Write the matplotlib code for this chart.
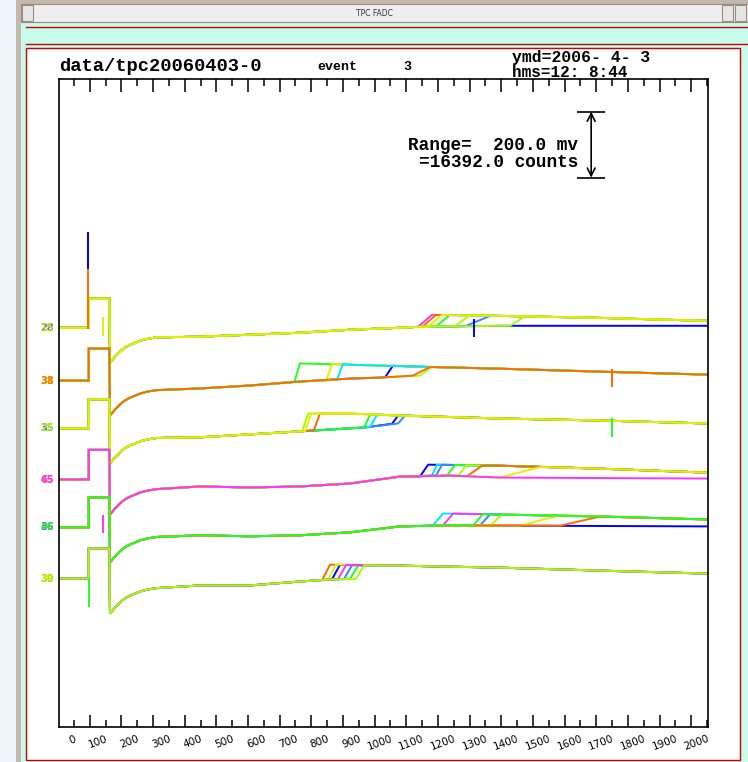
import numpy as np
import matplotlib
matplotlib.use('Agg')
import matplotlib.pyplot as plt
from matplotlib.patches import Rectangle
from matplotlib.lines import Line2D
from matplotlib.ticker import FixedLocator

# FADC time bins on x, millivolts on y
x_lim = (-47, 2003)
y_lim = (0, 1964)
tick_major = list(range(0, 2001, 100))
tick_minor = list(range(50, 2000, 100))

# one entry per channel (top to bottom)
ch_base = [1210, 1050, 905, 750, 605, 450]
ch_pulse = [88, 97, 88, 90, 91, 91]
ch_labels = [('28', '15'), ('31', '38'), ('35', '25'), ('45', '65'), ('36', '46'), ('30', '39')]

# shared shape of the undershoot after the test pulse (offset from baseline, mV)
t_rise, t_fall = 47, 112
rec_x = [114, 130, 145, 160, 177, 195, 210, 235, 262]
rec_y = [-106, -88, -73, -61, -52, -45, -39, -33, -29]

# slow drift before the step
pre_x = [
    [398, 556, 714, 872, 1030, 1093, 1346, 2000],
    [398, 556, 714, 872, 967, 1093],
    [398, 556, 714, 920, 1030],
    [398, 556, 714, 872, 1030, 1188, 1346, 2000],
    [398, 556, 714, 872, 1030, 1188, 2000],
    [398, 556, 714, 809, 936],
]
pre_y = [
    [-27, -21, -15, -6, 0, 3, 6, 6],
    [-24, -15, -3, 6, 9, 15],
    [-27, -18, -9, 3, 15],
    [-21, -24, -21, -12, 9, 12, 6, 3],
    [-24, -27, -24, -15, 3, 6, 3],
    [-21, -21, -9, -3, 0],
]
# level after the step
post_x = [
    [1157, 1346, 1662, 2000],
    [714, 872, 1093, 1346, 1662, 2000],
    [745, 872, 1030, 1346, 1662, 2000],
    [1125, 1346, 1662, 2000],
    [1157, 1346, 1662, 2000],
    [809, 1030, 1346, 1662, 2000],
]
post_y = [
    [39, 36, 30, 21],
    [52, 48, 42, 36, 27, 18],
    [45, 45, 39, 30, 24, 15],
    [45, 42, 33, 21],
    [42, 39, 33, 24],
    [42, 39, 33, 24, 15],
]

# per trace: step start/end time and level at both ends (None = no step)
step_t0 = [
    [None, 1087, 1100, 1144, 1236, 1204, 1378, 1119],
    [983, 697, 797, 831, 1093, 1071],
    [1005, 1024, 936, 917, 758, 721, 730],
    [1093, 1131, 1144, 1179, 1214, 1242, 1346, None],
    [None, 1134, 1166, 1283, 1315, 1409, 1536, 1261],
    [784, 815, 803, 853, 872, 834, 891],
]
step_t1 = [
    [None, 1131, 1144, 1188, 1315, 1251, 1425, 1163],
    [1008, 714, 816, 850, 1131, 1125],
    [1024, 1046, 958, 936, 777, 740, 750],
    [1119, 1147, 1163, 1204, 1239, 1289, 1473, None],
    [None, 1166, 1198, 1315, 1353, 1536, 1662, 1292],
    [809, 840, 828, 879, 898, 860, 917],
]
step_lo = [
    [None, 3, 3, 4, 5, 5, 6, 3],
    [10, -3, 0, 3, 15, 15],
    [14, 15, 5, 3, -6, -9, -8],
    [9, 12, 12, 12, 11, 10, 6, None],
    [None, 6, 6, 6, 6, 5, 5, 6],
    [-5, -3, -3, -2, -1, -2, -1],
]
step_hi = [
    [None, 39, 39, 39, 36, 38, 35, 39],
    [45, 52, 51, 50, 41, 41],
    [39, 39, 42, 42, 45, 45, 45],
    [45, 45, 45, 44, 43, 42, 38, None],
    [None, 42, 42, 40, 39, 37, 33, 40],
    [42, 41, 42, 41, 40, 41, 40],
]

# isolated spikes: channel, time, low, high (mV from baseline)
spike_ch = [0, 0, 5, 0, 1, 2, 0, 4]
spike_t = [44, 44, 47, 1264, 1700, 1700, 92, 92]
spike_lo = [0, 180, -82, -24, -15, -24, -21, -15]
spike_hi = [288, 288, 0, 24, 33, 30, 30, 33]

range_mv = 200.0
range_counts = 16392.0

# ---- styles ----
pal = {'blue': '#0000ff', 'dblue': '#3388ff', 'cyan': '#00e5ff', 'green': '#22ff22',
       'chart': '#a6ff00', 'yellow': '#e2f000', 'orange': '#ff6a00', 'magenta': '#ff33ff'}
trace_colors = [
    ['blue', 'magenta', 'orange', 'green', 'dblue', 'chart', 'chart', 'yellow'],
    ['blue', 'green', 'yellow', 'cyan', 'chart', 'orange'],
    ['blue', 'dblue', 'cyan', 'green', 'orange', 'chart', 'yellow'],
    ['blue', 'cyan', 'dblue', 'green', 'chart', 'orange', 'yellow', 'magenta'],
    ['blue', 'cyan', 'magenta', 'dblue', 'chart', 'yellow', 'orange', 'green'],
    ['orange', 'blue', 'yellow', 'dblue', 'green', 'magenta', 'chart'],
]
spike_colors = ['orange', 'blue', 'green', 'blue', 'orange', 'green', 'yellow', 'magenta']
label_colors = [('#4455ff', '#ccdd00'), ('#aadd00', '#ff7700'), ('#3366ff', '#aaee00'),
                ('#ff7700', '#ff33ff'), ('#3366ff', '#33dd33'), ('#ccdd00', '#aaee00')]

W, H = 748, 762
fig = plt.figure(figsize=(W / 100, H / 100), dpi=100)
fig.patch.set_facecolor('#eef4fb')


def px_rect(x0, y0, x1, y1, **kw):
    fig.add_artist(Rectangle((x0 / W, 1 - y1 / H), (x1 - x0) / W, (y1 - y0) / H,
                             transform=fig.transFigure, **kw))


def px_line(x0, y0, x1, y1, **kw):
    fig.add_artist(Line2D([x0 / W, x1 / W], [1 - y0 / H, 1 - y1 / H],
                          transform=fig.transFigure, **kw))


# window frame
px_rect(16, 0, 748, 762, fc='#c4b8ac', ec='none', zorder=-6)
px_rect(21, 22, 748, 762, fc='#c6fcec', ec='none', zorder=-5)
px_rect(21, 4, 748, 22, fc='#eeeeee', ec='#9a8c80', lw=0.8, zorder=-4)
for bx in (22, 722, 735):
    px_rect(bx, 5, bx + 11, 21, fc='#e6e6e6', ec='#9a8c80', lw=0.8, zorder=-3)
fig.text(374 / W, 1 - 14 / H, 'TPC FADC', ha='center', va='center', fontsize=5.5,
         color='#333333')
px_line(26, 27, 748, 27, color='#cc0000', lw=1.0, zorder=-2)
px_line(26, 44, 748, 44, color='#cc0000', lw=1.0, zorder=-2)
px_rect(26, 48, 740, 760, fc='white', ec='#cc0000', lw=1.0, zorder=-2)

ax = fig.add_axes([59 / W, 1 - 727 / H, 649 / W, 648 / H])
ax.set_facecolor('white')

for c in range(len(ch_base)):
    b = ch_base[c]
    for k, col in enumerate(trace_colors[c]):
        xs = [x_lim[0], t_rise, t_rise, t_fall] + rec_x
        ys = [0, 0, ch_pulse[c], ch_pulse[c]] + rec_y
        t0, t1 = step_t0[c][k], step_t1[c][k]
        if t0 is None:
            xs += pre_x[c]
            ys += pre_y[c]
        else:
            for px_, py_ in zip(pre_x[c], pre_y[c]):
                if px_ < t0:
                    xs.append(px_)
                    ys.append(py_)
            xs += [t0, t1]
            ys += [step_lo[c][k], step_hi[c][k]]
            for px_, py_ in zip(post_x[c], post_y[c]):
                if px_ > t1:
                    xs.append(px_)
                    ys.append(py_)
        ax.plot(xs, np.array(ys) + b, color=pal[col], lw=1.4, solid_joinstyle='miter')
    # overstruck channel labels
    for txt, tc in zip(ch_labels[c], label_colors[c]):
        ax.text(-84, b, txt, ha='center', va='center', fontsize=7, fontweight='bold',
                color=tc, clip_on=False)

for c, t, lo, hi, col in zip(spike_ch, spike_t, spike_lo, spike_hi, spike_colors):
    ax.plot([t, t], [ch_base[c] + lo, ch_base[c] + hi], color=pal[col], lw=1.4)

# range bar
bar_x = 1634
bar_top = 1865
ax.hlines([bar_top, bar_top - range_mv], 1590, 1678, color='black', lw=1.2)
ax.annotate('', xy=(bar_x, bar_top - range_mv), xytext=(bar_x, bar_top),
            arrowprops=dict(arrowstyle='<->', lw=1.2, color='black',
                            shrinkA=0, shrinkB=0, mutation_scale=14))

ax.set_xlim(*x_lim)
ax.set_ylim(*y_lim)
ax.set_yticks([])
ax.xaxis.set_major_locator(FixedLocator(tick_major))
ax.xaxis.set_minor_locator(FixedLocator(tick_minor))
ax.set_xticklabels([str(v) for v in tick_major], rotation=20, ha='right',
                   rotation_mode='anchor', fontsize=7.5)
ax.tick_params(axis='x', which='both', direction='in', top=True, bottom=True, width=1.1,
               color='black')
ax.tick_params(axis='x', which='major', length=5, pad=5)
ax.tick_params(axis='x', which='minor', length=9)
for s in ax.spines.values():
    s.set_linewidth(1.2)

mono = 'Liberation Mono'
fig.text(59 / W, 1 - 71 / H, 'data/tpc20060403-0', family=mono, fontweight='bold',
         fontsize=13.5, va='baseline', ha='left')
fig.text(317 / W, 1 - 70 / H, 'event', family=mono, fontweight='bold',
         fontsize=9.5, va='baseline', ha='left')
fig.text(403 / W, 1 - 70 / H, '3', family=mono, fontweight='bold',
         fontsize=9.5, va='baseline', ha='left')
fig.text(512 / W, 1 - 62 / H, 'ymd=2006- 4- 3', family=mono, fontweight='bold',
         fontsize=11.8, va='baseline', ha='left')
fig.text(512 / W, 1 - 77 / H, 'hms=12: 8:44', family=mono, fontweight='bold',
         fontsize=11.5, va='baseline', ha='left')
fig.text(578 / W, 1 - 150 / H, 'Range=  %.1f mv' % range_mv, family=mono,
         fontweight='bold', fontsize=12.8, va='baseline', ha='right')
fig.text(578 / W, 1 - 167 / H, '=%.1f counts' % range_counts, family=mono,
         fontweight='bold', fontsize=12.8, va='baseline', ha='right')

fig.savefig('out.png', dpi=100, facecolor=fig.get_facecolor())
